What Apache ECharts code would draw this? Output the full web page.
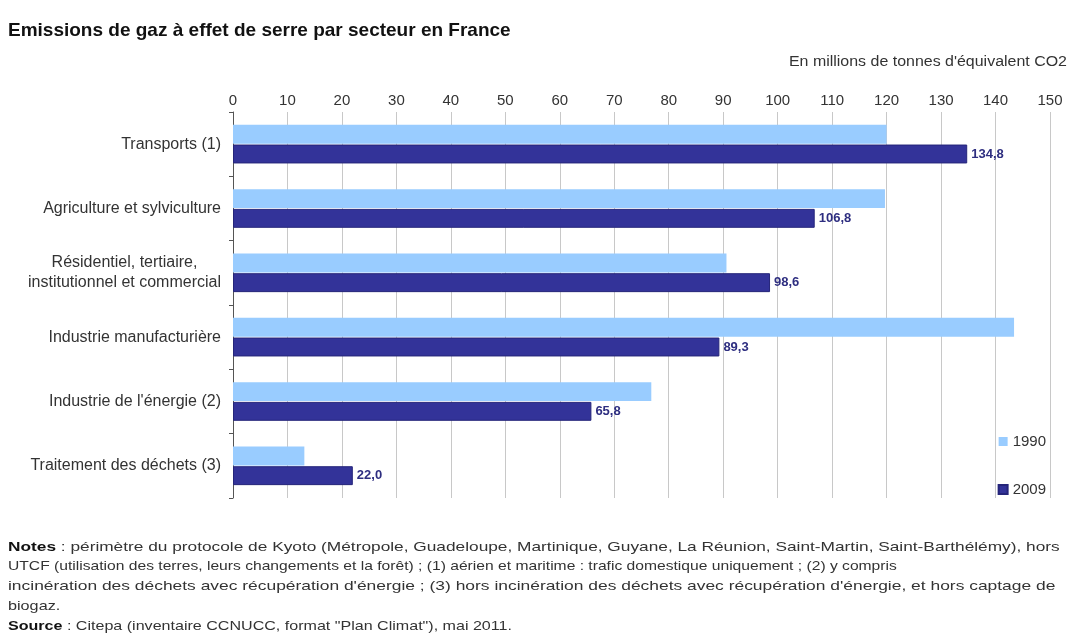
<!DOCTYPE html>
<html><head><meta charset="utf-8">
<script src="https://cdn.jsdelivr.net/npm/echarts@6/dist/echarts.min.js"></script>
<style>html,body{margin:0;padding:0;background:#fff}#c{width:1071px;height:642px}</style>
</head><body><div id="c"></div>
<script>
var categories = ['Transports (1)', 'Agriculture et sylviculture', 'Résidentiel, tertiaire,\ninstitutionnel et commercial', 'Industrie manufacturière', "Industrie de l'énergie (2)", 'Traitement des déchets (3)'];
var values1990 = [120.0, 119.7, 90.6, 143.4, 76.8, 13.1];
var values2009 = [134.8, 106.8, 98.6, 89.3, 65.8, 22.0];
var seriesNames = ['1990', '2009'];
var titleText = 'Emissions de gaz à effet de serre par secteur en France';
var unitText = "En millions de tonnes d'équivalent CO2";
var notesLines = [
  ['Notes', ' : périmètre du protocole de Kyoto (Métropole, Guadeloupe, Martinique, Guyane, La Réunion, Saint-Martin, Saint-Barthélémy), hors'],
  ['', "UTCF (utilisation des terres, leurs changements et la forêt) ; (1) aérien et maritime : trafic domestique uniquement ; (2) y compris"],
  ['', "incinération des déchets avec récupération d'énergie ; (3) hors incinération des déchets avec récupération d'énergie, et hors captage de"],
  ['', 'biogaz.'],
  ['Source', ' : Citepa (inventaire CCNUCC, format "Plan Climat"), mai 2011.']
];
var notesStretch = [1.28, 1.158, 1.29, 1.2, 1.19];
var FONT = 'Liberation Sans, Arial, sans-serif';
var chart = echarts.init(document.getElementById('c'));
var graphics = [
  {type:'text', x:8, y:21, style:{text:titleText, font:'bold 19px ' + FONT, fill:'#111', textAlign:'left', textVerticalAlign:'top'}},
  {type:'text', x:1067, y:55, scaleX:1.14, style:{text:unitText, font:'14px ' + FONT, fill:'#333', textAlign:'right', textVerticalAlign:'top'}}
];
notesLines.forEach(function(l, i){
  graphics.push({type:'text', x:8, y:540 + i*19.7, scaleX:notesStretch[i], style:{text:(l[0] ? '{b|' + l[0] + '}' : '') + l[1], font:'13.5px ' + FONT, fill:'#333', textAlign:'left', textVerticalAlign:'top', rich:{b:{fontWeight:'bold', fontSize:13.5, fontFamily:FONT, fill:'#111'}}}});
});
chart.setOption({
  animation:false,
  backgroundColor:'#fff',
  graphic:graphics,
  grid:{left:233, right:21, top:112, bottom:144, containLabel:false},
  legend:{data:seriesNames, orient:'vertical', right:20, top:429, itemWidth:9, itemHeight:9, itemGap:33, icon:'rect', textStyle:{fontFamily:FONT, fontSize:15, color:'#333'}},
  xAxis:{type:'value', position:'top', min:0, max:150, interval:10,
    axisLine:{show:false}, axisTick:{show:false},
    axisLabel:{fontFamily:FONT, fontSize:15, color:'#333', margin:4},
    splitLine:{lineStyle:{color:'#c8c8c8', width:1}}},
  yAxis:{type:'category', data:categories, inverse:true,
    axisLine:{lineStyle:{color:'#555'}}, axisTick:{show:true, length:4, lineStyle:{color:'#555'}},
    axisLabel:{fontFamily:FONT, fontSize:16, color:'#333', margin:12, lineHeight:20,
      formatter:function(v){ return v.split('\n').map(function(s){return '{c|' + s + '}';}).join('\n'); },
      rich:{c:{fontFamily:FONT, fontSize:16, color:'#333', align:'center', lineHeight:20}}}},
  series:[
    {name:seriesNames[0], type:'bar', data:values1990, itemStyle:{color:'#99ccff'}, barGap:'4%', barCategoryGap:'40%'},
    {name:seriesNames[1], type:'bar', data:values2009, itemStyle:{color:'#333399', borderColor:'#25257a', borderWidth:1}, barGap:'4%', barCategoryGap:'40%',
      label:{show:true, position:'right', distance:4, fontFamily:FONT, fontSize:13, fontWeight:'bold', color:'#2e2e80',
        formatter:function(p){ return p.value.toFixed(1).replace('.', ','); }}}
  ]
});
</script></body></html>
